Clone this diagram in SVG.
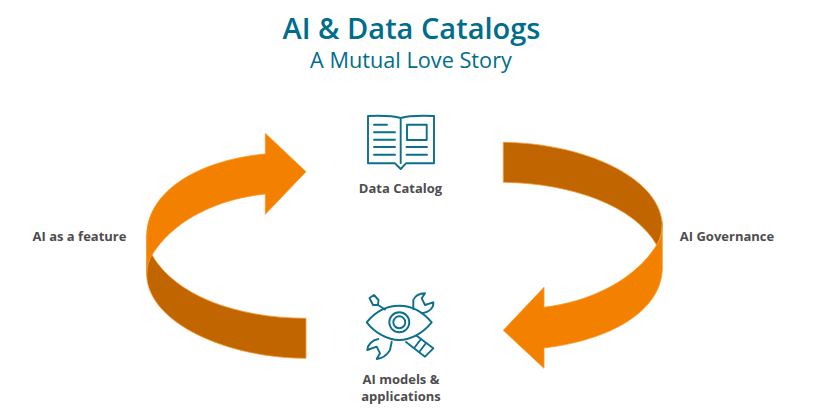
<svg xmlns="http://www.w3.org/2000/svg" width="822" height="413" viewBox="0 0 822 413">
<style>
text{font-family:"Open Sans","Noto Sans","Liberation Sans",sans-serif;text-anchor:middle}
.t1{font-size:29px;font-weight:600;fill:#006d8c}
.t2{font-size:21.7px;fill:#006d8c}
.lb{font-size:13px;font-weight:700;fill:#4d4d4d}
.ic{fill:none;stroke:#0b6f8d;stroke-width:1.9;stroke-linejoin:round;stroke-linecap:round}
.lt{fill:#f48000;stroke:#f69a30;stroke-width:.8}
.dk{fill:#c06500;stroke:#f69a30;stroke-width:.8}
</style>
<rect width="822" height="413" fill="#fff"/>
<g id="title"><text class="t1" x="411.500" y="39">AI &amp; Data Catalogs</text><text class="t2" x="411" y="68">A Mutual Love Story</text></g>
<g id="connectors">
<g id="left-arrow">
<path class="dk" d="M146.700 235V275C148 322 225 358 306 358.300V318.300C235 318 175 295 152 255Z"/>
<path class="lt" d="M306 171.700L265.300 133.300V154C200 160 148 190 146.700 235V275C147 266 149 260 152 255C172 222 215 199 265.300 194V214.300Z"/>
</g>
<g id="right-arrow">
<path class="dk" d="M503.300 142.300V182.300C570 183 634 205 656.700 245C660 240 662.300 232 662.300 223C658 175 580 143 503.300 142.300Z"/>
<path class="lt" d="M503.300 330.300L544 368.300V348C610 340 660 312 662.300 270V223C662 235 660 240 656.700 245C637 277 595 301 544 307.300V287.300Z"/>
</g>
</g>
<g id="data-catalog">
<path class="ic" d="M400.700 118C392 115.500 380 115.500 368 116V163.300H395L400.700 169L406 163.300H434V116C422 115.500 409 115.500 400.700 118ZM400.700 118V163"/>
<path class="ic" d="M374 124.700H387M374 132.300H395M374 139.700H395M374 147H395M374 154.700H395M406.500 147H427M406.500 154.700H427"/>
<rect class="ic" x="407" y="124.700" width="19.700" height="15.300"/>
<text class="lb" x="400.500" y="193">Data Catalog</text>
</g>
<g id="ai-models">
<path class="ic" d="M366.700 322.300C375 312 387 305.700 399.300 305.700S423 312 431.700 322.300C423 333 411 340 399.300 340S375 333 366.700 322.300Z"/>
<circle class="ic" cx="399.300" cy="322.300" r="10"/>
<circle class="ic" cx="399.300" cy="322.300" r="6"/>
<path class="ic" d="M369.500 298L374 295L378.500 300L378 305L373 305ZM378 305L385 309.500"/>
<path class="ic" d="M413.300 309V300C415 296 420 293.500 425 293.300L421.700 298.300L425 305L433.300 302.300C434 307 430 312 421.700 313.300"/>
<path class="ic" d="M391.700 341.700L390 350C387 355 382 358.500 376.700 359L380 353.300L376.700 346.700L367.300 350C367.500 345 372 340 378.300 339"/>
<path class="ic" d="M416.700 335.700L433.300 348.300L425 356.700L406 342M421 339L415 347M426 343L420 351"/>
<text class="lb" x="401" y="384">AI models &amp;</text><text class="lb" x="401" y="401">applications</text>
</g>
<g id="label-left"><text class="lb" x="79.500" y="241">AI as a feature</text></g>
<g id="label-right"><text class="lb" x="727" y="241">AI Governance</text></g>
</svg>
